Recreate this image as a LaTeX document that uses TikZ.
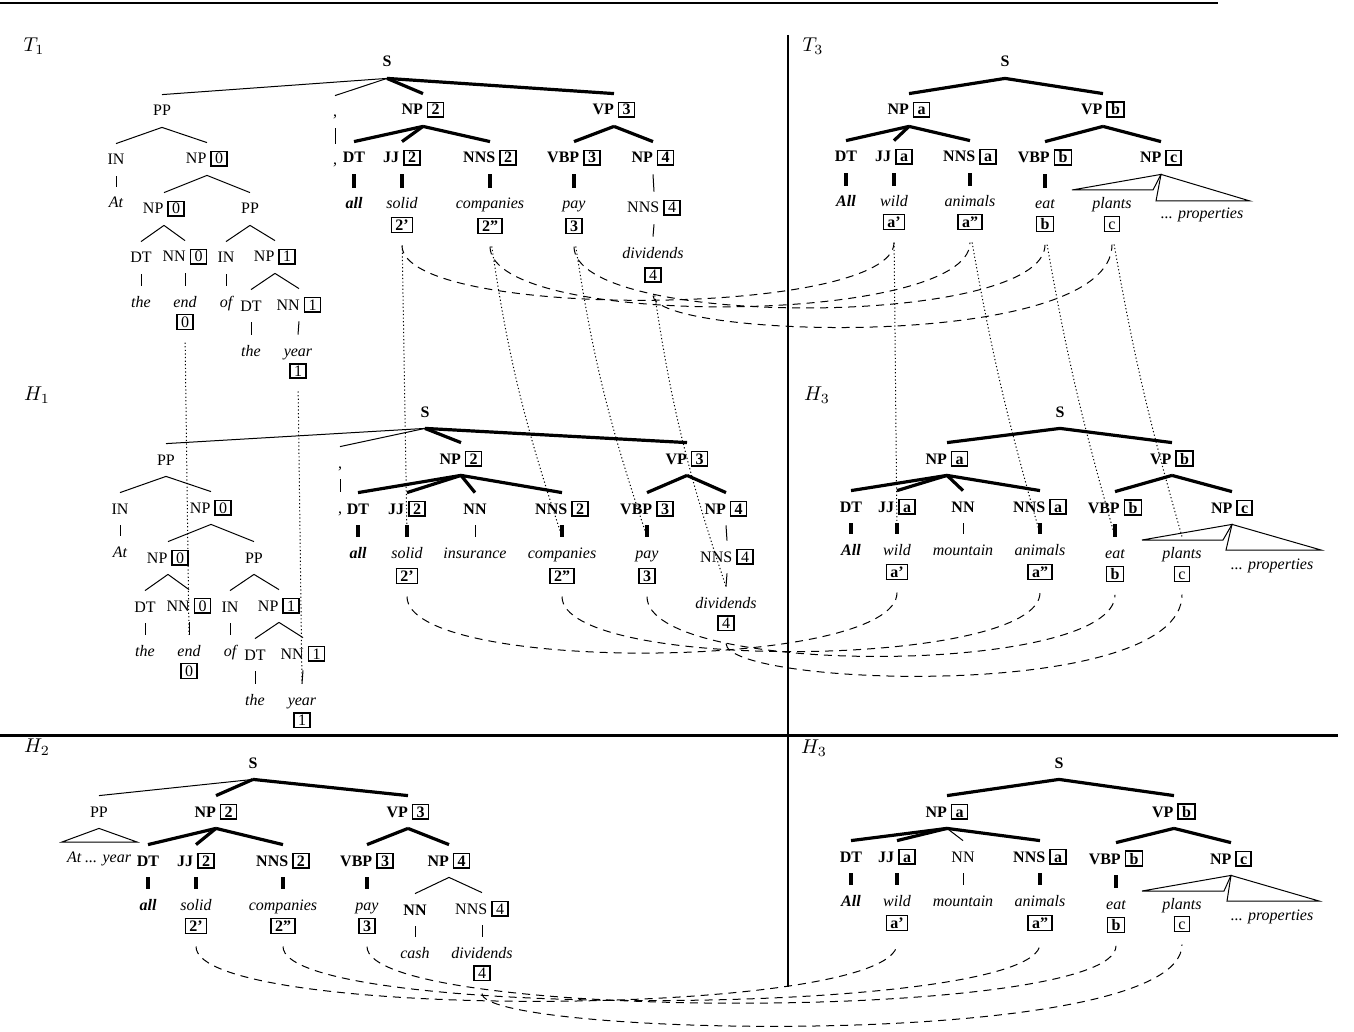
\documentclass[tikz,border=0pt]{standalone}
\usepackage[no-math]{fontspec}
\setmainfont{Liberation Serif}
\newcommand{\tsz}{\fontsize{8}{9.6}\selectfont}
\setlength{\fboxsep}{0.6pt}
\setlength{\fboxrule}{0.8pt}
\newcommand{\bx}[1]{\fbox{\kern1pt\vphantom{2}#1\kern1pt}}
\begin{document}
\begin{tikzpicture}[x=0.5pt,y=-0.5pt,
  lab/.style={inner xsep=0pt,inner ysep=3.5pt,text height=7pt,text depth=2pt,font=\tsz},
  cat/.style={lab,font=\tsz\bfseries},
  tag/.style={lab},
  wrd/.style={lab,font=\tsz\itshape},
  bwrd/.style={lab,font=\tsz\bfseries\itshape},
  bxn/.style={inner sep=0pt,font=\tsz},
  bbxn/.style={inner sep=0pt,font=\tsz\bfseries},
  ttl/.style={font=\fontsize{10}{12}\selectfont},
  thn/.style={line width=0.5pt},
  thk/.style={line width=1.6pt},
  lnk/.style={line width=0.5pt,dash pattern=on 4pt off 3pt,shorten <=6pt,shorten >=6pt},
  dotl/.style={line width=0.5pt,dash pattern=on 0.6pt off 1.2pt,shorten <=6pt}]
\useasboundingbox (0,0) rectangle (1354,1032);
\draw[line width=1.3pt] (0,3) -- (1218,3);
\draw[line width=1.5pt] (0,735) -- (1338,735);
\draw[line width=1pt] (788,35) -- (788,987);
\node[ttl] (t1lbl) at (34,46) {$T_1$};
\node[cat] (t1s) at (387,62) {S};
\node[tag] (t1pp) at (162,111) {PP};
\node[tag] (t1cm) at (335,112) {,};
\node[cat] (t1np) at (423,110) {NP \bx{2}};
\node[cat] (t1vp) at (614,110) {VP \bx{3}};
\node[tag] (t1in) at (116,160) {IN};
\node[tag] (t1npa) at (207,159) {NP \bx{0}};
\node[wrd] (t1at) at (116,203) {At};
\node[tag] (t1npb) at (164,209) {NP \bx{0}};
\node[tag] (t1ppb) at (250,209) {PP};
\node[tag] (t1dta) at (141,258) {DT};
\node[tag] (t1nna) at (185,257) {NN \bx{0}};
\node[tag] (t1inb) at (226,258) {IN};
\node[tag] (t1npc) at (275,257) {NP \bx{1}};
\node[wrd] (t1the) at (141,302) {the};
\node[wrd] (t1end) at (185,302) {end};
\node[bxn] (t1b0) at (185,322) {\bx{0}};
\node[wrd] (t1of) at (226,302) {of};
\node[tag] (t1dtb) at (251,306) {DT};
\node[tag] (t1nnb) at (299,305) {NN \bx{1}};
\node[wrd] (t1theb) at (251,351) {the};
\node[wrd] (t1year) at (298,351) {year};
\node[bxn] (t1b1) at (298,371) {\bx{1}};
\node[tag] (t1cw) at (335,160) {,};
\node[cat] (t1dt) at (354,158) {DT};
\node[cat] (t1jj) at (402,158) {JJ \bx{2}};
\node[cat] (t1nns) at (490,158) {NNS \bx{2}};
\node[cat] (t1vbp) at (574,158) {VBP \bx{3}};
\node[cat] (t1npd) at (653,158) {NP \bx{4}};
\node[bwrd] (t1all) at (354,204) {all};
\node[wrd] (t1solid) at (402,204) {solid};
\node[bbxn] (t1b2a) at (402,225) {\bx{2'}};
\node[wrd] (t1comp) at (490,204) {companies};
\node[bbxn] (t1b2b) at (490,226) {\bx{2''}};
\node[wrd] (t1pay) at (574,204) {pay};
\node[bbxn] (t1b3) at (574,226) {\bx{3}};
\node[tag] (t1nnsb) at (654,208) {NNS \bx{4}};
\node[wrd] (t1div) at (653,253) {dividends};
\node[bxn] (t1b4) at (653,275) {\bx{4}};
\draw[thn] (t1s.south) -- (t1pp.north);
\draw[thn] (t1s.south) -- (t1cm.north);
\draw[thk] (t1s.south) -- (t1np.north);
\draw[thk] (t1s.south) -- (t1vp.north);
\draw[thn] (t1pp.south) -- (t1in.north);
\draw[thn] (t1pp.south) -- (t1npa.north);
\draw[thn] (t1in.south) -- (t1at.north);
\draw[thn] (t1npa.south) -- (t1npb.north);
\draw[thn] (t1npa.south) -- (t1ppb.north);
\draw[thn] (t1npb.south) -- (t1dta.north);
\draw[thn] (t1npb.south) -- (t1nna.north);
\draw[thn] (t1dta.south) -- (t1the.north);
\draw[thn] (t1nna.south) -- (t1end.north);
\draw[thn] (t1ppb.south) -- (t1inb.north);
\draw[thn] (t1ppb.south) -- (t1npc.north);
\draw[thn] (t1inb.south) -- (t1of.north);
\draw[thn] (t1npc.south) -- (t1dtb.north);
\draw[thn] (t1npc.south) -- (t1nnb.north);
\draw[thn] (t1dtb.south) -- (t1theb.north);
\draw[thn] (t1nnb.south) -- (t1year.north);
\draw[thn] (t1cm.south) -- (t1cw.north);
\draw[thk] (t1np.south) -- (t1dt.north);
\draw[thk] (t1np.south) -- (t1jj.north);
\draw[thk] (t1np.south) -- (t1nns.north);
\draw[thk] (t1vp.south) -- (t1vbp.north);
\draw[thk] (t1vp.south) -- (t1npd.north);
\draw[thk] (t1dt.south) -- (t1all.north);
\draw[thk] (t1jj.south) -- (t1solid.north);
\draw[thk] (t1nns.south) -- (t1comp.north);
\draw[thk] (t1vbp.south) -- (t1pay.north);
\draw[thn] (t1npd.south) -- (t1nnsb.north);
\draw[thn] (t1nnsb.south) -- (t1div.north);
\node[ttl] (h1lbl) at (37,395) {$H_1$};
\node[cat] (h1s) at (425,412) {S};
\node[tag] (h1pp) at (166,460) {PP};
\node[tag] (h1cm) at (340,463) {,};
\node[cat] (h1np) at (461,459) {NP \bx{2}};
\node[cat] (h1vp) at (687,459) {VP \bx{3}};
\node[tag] (h1in) at (120,509) {IN};
\node[tag] (h1npa) at (211,508) {NP \bx{0}};
\node[wrd] (h1at) at (120,552) {At};
\node[tag] (h1npb) at (168,558) {NP \bx{0}};
\node[tag] (h1ppb) at (254,558) {PP};
\node[tag] (h1dta) at (145,607) {DT};
\node[tag] (h1nna) at (189,606) {NN \bx{0}};
\node[tag] (h1inb) at (230,607) {IN};
\node[tag] (h1npc) at (279,606) {NP \bx{1}};
\node[wrd] (h1the) at (145,651) {the};
\node[wrd] (h1end) at (189,651) {end};
\node[bxn] (h1b0) at (189,671) {\bx{0}};
\node[wrd] (h1of) at (230,651) {of};
\node[tag] (h1dtb) at (255,655) {DT};
\node[tag] (h1nnb) at (303,654) {NN \bx{1}};
\node[wrd] (h1theb) at (255,700) {the};
\node[wrd] (h1year) at (302,700) {year};
\node[bxn] (h1b1) at (302,720) {\bx{1}};
\node[tag] (h1cw) at (340,508) {,};
\node[cat] (h1dt) at (358,509) {DT};
\node[cat] (h1jj) at (407,509) {JJ \bx{2}};
\node[cat] (h1nn) at (475,509) {NN};
\node[cat] (h1nns) at (562,509) {NNS \bx{2}};
\node[cat] (h1vbp) at (647,509) {VBP \bx{3}};
\node[cat] (h1npd) at (726,509) {NP \bx{4}};
\node[bwrd] (h1all) at (358,553) {all};
\node[wrd] (h1solid) at (407,553) {solid};
\node[bbxn] (h1b2a) at (407,576) {\bx{2'}};
\node[wrd] (h1ins) at (475,553) {insurance};
\node[wrd] (h1comp) at (562,553) {companies};
\node[bbxn] (h1b2b) at (562,576) {\bx{2''}};
\node[wrd] (h1pay) at (647,553) {pay};
\node[bbxn] (h1b3) at (647,576) {\bx{3}};
\node[tag] (h1nnsb) at (727,557) {NNS \bx{4}};
\node[wrd] (h1div) at (726,603) {dividends};
\node[bxn] (h1b4) at (726,623) {\bx{4}};
\draw[thn] (h1s.south) -- (h1pp.north);
\draw[thn] (h1s.south) -- (h1cm.north);
\draw[thk] (h1s.south) -- (h1np.north);
\draw[thk] (h1s.south) -- (h1vp.north);
\draw[thn] (h1pp.south) -- (h1in.north);
\draw[thn] (h1pp.south) -- (h1npa.north);
\draw[thn] (h1in.south) -- (h1at.north);
\draw[thn] (h1npa.south) -- (h1npb.north);
\draw[thn] (h1npa.south) -- (h1ppb.north);
\draw[thn] (h1npb.south) -- (h1dta.north);
\draw[thn] (h1npb.south) -- (h1nna.north);
\draw[thn] (h1dta.south) -- (h1the.north);
\draw[thn] (h1nna.south) -- (h1end.north);
\draw[thn] (h1ppb.south) -- (h1inb.north);
\draw[thn] (h1ppb.south) -- (h1npc.north);
\draw[thn] (h1inb.south) -- (h1of.north);
\draw[thn] (h1npc.south) -- (h1dtb.north);
\draw[thn] (h1npc.south) -- (h1nnb.north);
\draw[thn] (h1dtb.south) -- (h1theb.north);
\draw[thn] (h1nnb.south) -- (h1year.north);
\draw[thn] (h1cm.south) -- (h1cw.north);
\draw[thk] (h1np.south) -- (h1dt.north);
\draw[thk] (h1np.south) -- (h1jj.north);
\draw[thk] (h1np.south) -- (h1nn.north);
\draw[thk] (h1np.south) -- (h1nns.north);
\draw[thk] (h1vp.south) -- (h1vbp.north);
\draw[thk] (h1vp.south) -- (h1npd.north);
\draw[thk] (h1dt.south) -- (h1all.north);
\draw[thk] (h1jj.south) -- (h1solid.north);
\draw[thn] (h1nn.south) -- (h1ins.north);
\draw[thk] (h1nns.south) -- (h1comp.north);
\draw[thk] (h1vbp.south) -- (h1pay.north);
\draw[thn] (h1npd.south) -- (h1nnsb.north);
\draw[thn] (h1nnsb.south) -- (h1div.north);
\node[ttl] (t3lbl) at (813,46) {$T_3$};
\node[cat] (t3s) at (1005,62) {S};
\node[cat] (t3np) at (909,110) {NP \bx{a}};
\node[cat] (t3vp) at (1103,110) {VP \bx{b}};
\node[cat] (t3dt) at (846,157) {DT};
\node[cat] (t3jj) at (894,157) {JJ \bx{a}};
\node[cat] (t3nns) at (970,157) {NNS \bx{a}};
\node[cat] (t3vbp) at (1045,158) {VBP \bx{b}};
\node[cat] (t3npc) at (1161,158) {NP \bx{c}};
\node[bwrd] (t3all) at (846,202) {All};
\node[wrd] (t3wild) at (894,202) {wild};
\node[bbxn] (t3ba) at (894,222) {\bx{a'}};
\node[wrd] (t3anim) at (970,202) {animals};
\node[bbxn] (t3bb) at (970,222) {\bx{a''}};
\node[wrd] (t3eat) at (1045,204) {eat};
\node[bbxn] (t3bc) at (1045,224) {\bx{b}};
\node[wrd] (t3plants) at (1112,204) {plants};
\node[bxn] (t3bd) at (1112,224) {\bx{c}};
\node[wrd] (t3prop) at (1202,214) {... properties};
\coordinate (t3ta) at (1072,190);
\coordinate (t3tb) at (1153,190);
\coordinate (t3tc) at (1156,201);
\coordinate (t3td) at (1250,201);
\draw[thk] (t3s.south) -- (t3np.north);
\draw[thk] (t3s.south) -- (t3vp.north);
\draw[thk] (t3np.south) -- (t3dt.north);
\draw[thk] (t3np.south) -- (t3jj.north);
\draw[thk] (t3np.south) -- (t3nns.north);
\draw[thk] (t3vp.south) -- (t3vbp.north);
\draw[thk] (t3vp.south) -- (t3npc.north);
\draw[thk] (t3dt.south) -- (t3all.north);
\draw[thk] (t3jj.south) -- (t3wild.north);
\draw[thk] (t3nns.south) -- (t3anim.north);
\draw[thk] (t3vbp.south) -- (t3eat.north);
\draw[thn] (t3npc.south) -- (t3ta) -- (t3tb) -- cycle;
\draw[thn] (t3npc.south) -- (t3tc) -- (t3td) -- cycle;
\node[ttl] (h3lbl) at (817,395) {$H_3$};
\node[cat] (h3s) at (1060,412) {S};
\node[cat] (h3np) at (947,459) {NP \bx{a}};
\node[cat] (h3vp) at (1172,459) {VP \bx{b}};
\node[cat] (h3dt) at (851,507) {DT};
\node[cat] (h3jj) at (897,507) {JJ \bx{a}};
\node[cat] (h3nn) at (963,507) {NN};
\node[cat] (h3nns) at (1040,507) {NNS \bx{a}};
\node[cat] (h3vbp) at (1115,508) {VBP \bx{b}};
\node[cat] (h3npc) at (1232,508) {NP \bx{c}};
\node[bwrd] (h3all) at (851,550) {All};
\node[wrd] (h3wild) at (897,550) {wild};
\node[bbxn] (h3ba) at (897,572) {\bx{a'}};
\node[wrd] (h3mnt) at (963,550) {mountain};
\node[wrd] (h3anim) at (1040,550) {animals};
\node[bbxn] (h3bb) at (1040,572) {\bx{a''}};
\node[wrd] (h3eat) at (1115,553) {eat};
\node[bbxn] (h3bc) at (1115,574) {\bx{b}};
\node[wrd] (h3plants) at (1182,553) {plants};
\node[bxn] (h3bd) at (1182,574) {\bx{c}};
\node[wrd] (h3prop) at (1272,564) {... properties};
\coordinate (h3ta) at (1142,540);
\coordinate (h3tb) at (1223,540);
\coordinate (h3tc) at (1226,550);
\coordinate (h3td) at (1321,550);
\draw[thk] (h3s.south) -- (h3np.north);
\draw[thk] (h3s.south) -- (h3vp.north);
\draw[thk] (h3np.south) -- (h3dt.north);
\draw[thk] (h3np.south) -- (h3jj.north);
\draw[thk] (h3np.south) -- (h3nn.north);
\draw[thk] (h3np.south) -- (h3nns.north);
\draw[thk] (h3vp.south) -- (h3vbp.north);
\draw[thk] (h3vp.south) -- (h3npc.north);
\draw[thk] (h3dt.south) -- (h3all.north);
\draw[thk] (h3jj.south) -- (h3wild.north);
\draw[thn] (h3nn.south) -- (h3mnt.north);
\draw[thk] (h3nns.south) -- (h3anim.north);
\draw[thk] (h3vbp.south) -- (h3eat.north);
\draw[thn] (h3npc.south) -- (h3ta) -- (h3tb) -- cycle;
\draw[thn] (h3npc.south) -- (h3tc) -- (h3td) -- cycle;
\node[ttl] (h2lbl) at (37,747) {$H_2$};
\node[cat] (h2s) at (253,763) {S};
\node[tag] (h2pp) at (99,812) {PP};
\node[cat] (h2np) at (216,812) {NP \bx{2}};
\node[cat] (h2vp) at (408,812) {VP \bx{3}};
\node[wrd] (h2atyr) at (99,857) {At ... year};
\coordinate (h2ta) at (62,842);
\coordinate (h2tb) at (137,842);
\node[cat] (h2dt) at (148,861) {DT};
\node[cat] (h2jj) at (196,861) {JJ \bx{2}};
\node[cat] (h2nns) at (283,861) {NNS \bx{2}};
\node[cat] (h2vbp) at (367,861) {VBP \bx{3}};
\node[cat] (h2npd) at (449,861) {NP \bx{4}};
\node[bwrd] (h2all) at (148,905) {all};
\node[wrd] (h2solid) at (196,905) {solid};
\node[bbxn] (h2b2a) at (196,926) {\bx{2'}};
\node[wrd] (h2comp) at (283,905) {companies};
\node[bbxn] (h2b2b) at (283,926) {\bx{2''}};
\node[wrd] (h2pay) at (367,905) {pay};
\node[bbxn] (h2b3) at (367,926) {\bx{3}};
\node[cat] (h2nn) at (415,910) {NN};
\node[tag] (h2nnsb) at (482,909) {NNS \bx{4}};
\node[wrd] (h2cash) at (415,953) {cash};
\node[wrd] (h2div) at (482,953) {dividends};
\node[bxn] (h2b4) at (482,973) {\bx{4}};
\draw[thn] (h2s.south) -- (h2pp.north);
\draw[thk] (h2s.south) -- (h2np.north);
\draw[thk] (h2s.south) -- (h2vp.north);
\draw[thn] (h2pp.south) -- (h2ta) -- (h2tb) -- cycle;
\draw[thk] (h2np.south) -- (h2dt.north);
\draw[thk] (h2np.south) -- (h2jj.north);
\draw[thk] (h2np.south) -- (h2nns.north);
\draw[thk] (h2vp.south) -- (h2vbp.north);
\draw[thk] (h2vp.south) -- (h2npd.north);
\draw[thk] (h2dt.south) -- (h2all.north);
\draw[thk] (h2jj.south) -- (h2solid.north);
\draw[thk] (h2nns.south) -- (h2comp.north);
\draw[thk] (h2vbp.south) -- (h2pay.north);
\draw[thn] (h2npd.south) -- (h2nn.north);
\draw[thn] (h2npd.south) -- (h2nnsb.north);
\draw[thn] (h2nn.south) -- (h2cash.north);
\draw[thn] (h2nnsb.south) -- (h2div.north);
\node[ttl] (hblbl) at (814,748) {$H_3$};
\node[cat] (hbs) at (1059,763) {S};
\node[cat] (hbnp) at (947,812) {NP \bx{a}};
\node[cat] (hbvp) at (1174,812) {VP \bx{b}};
\node[cat] (hbdt) at (851,857) {DT};
\node[cat] (hbjj) at (897,857) {JJ \bx{a}};
\node[tag] (hbnn) at (963,857) {NN};
\node[cat] (hbnns) at (1040,857) {NNS \bx{a}};
\node[cat] (hbvbp) at (1116,859) {VBP \bx{b}};
\node[cat] (hbnpc) at (1231,859) {NP \bx{c}};
\node[bwrd] (hball) at (851,901) {All};
\node[wrd] (hbwild) at (897,901) {wild};
\node[bbxn] (hbba) at (897,923) {\bx{a'}};
\node[wrd] (hbmnt) at (963,901) {mountain};
\node[wrd] (hbanim) at (1040,901) {animals};
\node[bbxn] (hbbb) at (1040,923) {\bx{a''}};
\node[wrd] (hbeat) at (1116,904) {eat};
\node[bbxn] (hbbc) at (1116,925) {\bx{b}};
\node[wrd] (hbplants) at (1182,904) {plants};
\node[bxn] (hbbd) at (1182,924) {\bx{c}};
\node[wrd] (hbprop) at (1272,915) {... properties};
\coordinate (hbta) at (1142,891);
\coordinate (hbtb) at (1224,891);
\coordinate (hbtc) at (1227,901);
\coordinate (hbtd) at (1319,901);
\draw[thk] (hbs.south) -- (hbnp.north);
\draw[thk] (hbs.south) -- (hbvp.north);
\draw[thk] (hbnp.south) -- (hbdt.north);
\draw[thk] (hbnp.south) -- (hbjj.north);
\draw[thn] (hbnp.south) -- (hbnn.north);
\draw[thk] (hbnp.south) -- (hbnns.north);
\draw[thk] (hbvp.south) -- (hbvbp.north);
\draw[thk] (hbvp.south) -- (hbnpc.north);
\draw[thk] (hbdt.south) -- (hball.north);
\draw[thk] (hbjj.south) -- (hbwild.north);
\draw[thn] (hbnn.south) -- (hbmnt.north);
\draw[thk] (hbnns.south) -- (hbanim.north);
\draw[thk] (hbvbp.south) -- (hbeat.north);
\draw[thn] (hbnpc.south) -- (hbta) -- (hbtb) -- cycle;
\draw[thn] (hbnpc.south) -- (hbtc) -- (hbtd) -- cycle;
\draw[dotl] (t1b0.south) -- (h1end.north);
\draw[dotl] (t1b1.south) -- (h1year.north);
\draw[dotl] (t1b2a.south) -- (h1solid.north);
\draw[dotl] (t1b2b.south) to[bend right=5] (h1comp.north);
\draw[dotl] (t1b3.south) to[bend right=5] (h1pay.north);
\draw[dotl] (t1b4.south) to[bend right=5] (h1div.north);
\draw[dotl] (t3ba.south) -- (h3wild.north);
\draw[dotl] (t3bb.south) to[bend right=3] (h3anim.north);
\draw[dotl] (t3bc.south) to[bend right=3] (h3eat.north);
\draw[dotl] (t3bd.south) to[bend right=3] (h3plants.north);
\draw[lnk] (t1b2a.south) .. controls +(0,87) and +(0,87) .. (t3ba.south);
\draw[lnk] (t1b2b.south) .. controls +(0,95) and +(0,95) .. (t3bb.south);
\draw[lnk] (t1b3.south) .. controls +(0,95) and +(0,95) .. (t3bc.south);
\draw[lnk] (t1b4.south) .. controls +(0,55) and +(0,120) .. (t3bd.south);
\draw[lnk] (h1b2a.south) .. controls +(0,90) and +(0,90) .. (h3ba.south);
\draw[lnk] (h1b2b.south) .. controls +(0,88) and +(0,88) .. (h3bb.south);
\draw[lnk] (h1b3.south) .. controls +(0,93) and +(0,93) .. (h3bc.south);
\draw[lnk] (h1b4.south) .. controls +(0,55) and +(0,120) .. (h3bd.south);
\draw[lnk] (h2b2a.south) .. controls +(0,87) and +(0,87) .. (hbba.south);
\draw[lnk] (h2b2b.south) .. controls +(0,86) and +(0,86) .. (hbbb.south);
\draw[lnk] (h2b3.south) .. controls +(0,88) and +(0,88) .. (hbbc.south);
\draw[lnk] (h2b4.south) .. controls +(0,55) and +(0,120) .. (hbbd.south);
\end{tikzpicture}
\end{document}
